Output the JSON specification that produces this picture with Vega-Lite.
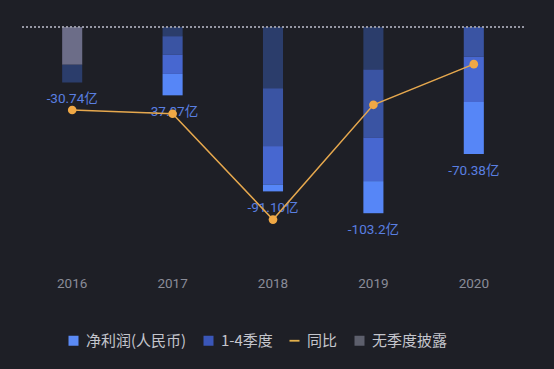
{
  "$schema": "https://vega.github.io/schema/vega-lite/v6.json",
  "background": "#1e1f26",
  "padding": {"left": 21, "top": 26, "right": 31, "bottom": 25},
  "width": 502,
  "height": 240,
  "config": {"view": {"stroke": null}, "font": "Roboto, Noto Sans CJK SC"},
  "datasets": {
    "parts": [
      {"year": "2016", "part": "无季度披露", "value": -20.9},
      {"year": "2016", "part": "Q4", "value": -9.84},
      {"year": "2017", "part": "Q4", "value": -5.1},
      {"year": "2017", "part": "Q3", "value": -10.2},
      {"year": "2017", "part": "Q2", "value": -10.7},
      {"year": "2017", "part": "Q1", "value": -11.87},
      {"year": "2018", "part": "Q4", "value": -34.0},
      {"year": "2018", "part": "Q3", "value": -32.0},
      {"year": "2018", "part": "Q2", "value": -21.3},
      {"year": "2018", "part": "Q1", "value": -3.8},
      {"year": "2019", "part": "Q4", "value": -23.6},
      {"year": "2019", "part": "Q3", "value": -37.6},
      {"year": "2019", "part": "Q2", "value": -24.2},
      {"year": "2019", "part": "Q1", "value": -17.8},
      {"year": "2020", "part": "Q3", "value": -16.3},
      {"year": "2020", "part": "Q2", "value": -25.3},
      {"year": "2020", "part": "Q1", "value": -28.78}
    ],
    "totals": [
      {"year": "2016", "total": -30.74, "label": "-30.74亿", "yoy": -19.1},
      {"year": "2017", "total": -37.87, "label": "-37.87亿", "yoy": -23.2},
      {"year": "2018", "total": -91.1, "label": "-91.10亿", "yoy": -140.6},
      {"year": "2019", "total": -103.2, "label": "-103.2亿", "yoy": -13.3},
      {"year": "2020", "total": -70.38, "label": "-70.38亿", "yoy": 31.8}
    ],
    "legendItems": [
      {"series": "净利润(人民币)"},
      {"series": "1-4季度"},
      {"series": "同比"},
      {"series": "无季度披露"}
    ]
  },
  "encoding": {
    "x": {
      "field": "year",
      "type": "ordinal",
      "scale": {"domain": ["2016", "2017", "2018", "2019", "2020"], "paddingInner": 0.8, "paddingOuter": 0.4},
      "axis": {
        "title": null,
        "domain": false,
        "ticks": false,
        "grid": false,
        "labelAngle": 0,
        "labelPadding": 9,
        "labelColor": "#8a8c98",
        "labelFontSize": 13.5,
        "labelFont": "Roboto"
      }
    }
  },
  "layer": [
    {
      "data": {"name": "parts"},
      "mark": {"type": "bar"},
      "encoding": {
        "y": {"field": "value", "type": "quantitative", "stack": "zero", "scale": {"domain": [-133, 0], "nice": false, "zero": true}, "axis": null},
        "color": {
          "field": "part",
          "type": "nominal",
          "scale": {"domain": ["Q1", "Q2", "Q3", "Q4", "无季度披露"], "range": ["#5686f7", "#4767d0", "#3a54a3", "#2b3d6b", "#6c6d88"]},
          "legend": null
        },
        "order": {"field": "part", "sort": "descending"}
      }
    },
    {
      "data": {"name": "totals"},
      "mark": {"type": "rule", "color": "#9a9ba8", "strokeDash": [2, 2], "strokeWidth": 1},
      "encoding": {
        "x": null,
        "y": {"datum": 0, "type": "quantitative", "scale": {"domain": [-133, 0], "nice": false}, "axis": null}
      }
    },
    {
      "data": {"name": "totals"},
      "mark": {"type": "text", "dy": 17, "align": "center", "baseline": "middle", "fontSize": 13.5, "color": "#5a7fe2"},
      "encoding": {
        "y": {"field": "total", "type": "quantitative", "scale": {"domain": [-133, 0], "nice": false}, "axis": null},
        "text": {"field": "label"}
      }
    },
    {
      "data": {"name": "totals"},
      "mark": {"type": "line", "color": "#e6a84e", "strokeWidth": 1.5},
      "encoding": {
        "y": {"field": "yoy", "type": "quantitative", "scale": {"domain": [-193.2, 73.0], "nice": false, "zero": false}, "axis": null}
      }
    },
    {
      "data": {"name": "totals"},
      "mark": {"type": "point", "filled": true, "size": 75, "opacity": 1, "color": "#f0a845"},
      "encoding": {
        "y": {"field": "yoy", "type": "quantitative", "scale": {"domain": [-193.2, 73.0], "nice": false, "zero": false}, "axis": null}
      }
    },
    {
      "data": {"name": "legendItems"},
      "mark": {"type": "point", "filled": true, "opacity": 0},
      "encoding": {
        "x": null,
        "color": {
          "field": "series",
          "type": "nominal",
          "scale": {"domain": ["净利润(人民币)", "1-4季度", "同比", "无季度披露"], "range": ["#5b8af5", "#3a56b8", "#e3b04c", "#5d5f6c"]},
          "legend": {"orient": "none", "legendX": 44, "legendY": 306, "direction": "horizontal", "title": null, "labelColor": "#c4c5cc", "labelFontSize": 15, "labelFont": "Noto Sans CJK SC", "symbolSize": 100, "symbolOpacity": 1, "symbolStrokeWidth": 0, "columnPadding": 14, "labelOffset": 5}
        },
        "shape": {
          "field": "series",
          "type": "nominal",
          "scale": {"domain": ["净利润(人民币)", "1-4季度", "同比", "无季度披露"], "range": ["square", "square", "M-1,-0.18L1,-0.18L1,0.18L-1,0.18Z", "square"]},
          "legend": {"orient": "none", "legendX": 44, "legendY": 306, "direction": "horizontal", "title": null, "labelColor": "#c4c5cc", "labelFontSize": 15, "labelFont": "Noto Sans CJK SC", "symbolSize": 100, "symbolOpacity": 1, "symbolStrokeWidth": 0, "columnPadding": 14, "labelOffset": 5}
        }
      }
    }
  ],
  "resolve": {"scale": {"y": "independent", "color": "independent", "shape": "independent"}}
}
